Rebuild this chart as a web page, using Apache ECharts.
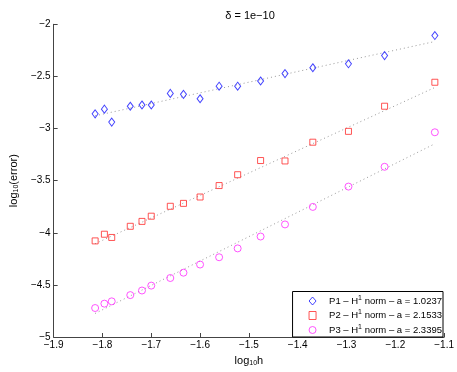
<!DOCTYPE html>
<html>
<head>
<meta charset="utf-8">
<script src="https://cdn.jsdelivr.net/npm/echarts@6/dist/echarts.min.js"></script>
<style>
  html, body { margin: 0; padding: 0; background: #fff; }
  #main { width: 457px; height: 372px; }
</style>
</head>
<body>
<div id="main"></div>
<script>
// log10(h) values, same for the three schemes
var logH = [-1.815, -1.796, -1.781, -1.743, -1.719, -1.700, -1.661, -1.634, -1.600,
            -1.561, -1.523, -1.476, -1.426, -1.369, -1.296, -1.222, -1.119];
// log10(error)
var errP1 = [-2.859, -2.814, -2.938, -2.786, -2.774, -2.774, -2.663, -2.672, -2.714,
             -2.594, -2.594, -2.544, -2.473, -2.417, -2.379, -2.300, -2.108];
var errP2 = [-4.078, -4.014, -4.045, -3.938, -3.891, -3.841, -3.746, -3.718, -3.657,
             -3.547, -3.443, -3.307, -3.311, -3.131, -3.027, -2.786, -2.556];
var errP3 = [-4.722, -4.680, -4.658, -4.598, -4.554, -4.507, -4.434, -4.383, -4.305,
             -4.235, -4.150, -4.036, -3.920, -3.752, -3.557, -3.367, -3.036];
// fitted lines, end points
var fitX  = [-1.815, -1.119];
var fitP1 = [-2.878, -2.165];
var fitP2 = [-4.105, -2.606];
var fitP3 = [-4.774, -3.146];
var names  = ['P1', 'P2', 'P3'];
var slopes = ['1.0237', '2.1533', '2.3395'];

var chart = echarts.init(document.getElementById('main'));
var font = 'Liberation Sans, Arial, sans-serif';

function pairs(xs, ys) {
  return xs.map(function (x, i) { return [x, ys[i]]; });
}
function minus(v) {
  return String(Math.round(v * 10) / 10).replace('-', '\u2212');
}

var fitStyle = { color: '#999', width: 1, type: [1, 3] };

var option = {
  backgroundColor: '#fff',
  animation: false,
  title: {
    text: '\u03b4 = 1e\u221210',
    left: 245, top: 5, textAlign: 'center',
    textStyle: { fontFamily: font, fontSize: 11, fontWeight: 'normal', color: '#000' }
  },
  grid: { left: 43.3, right: 10.3, top: 24.3, bottom: 31 },
  legend: {
    orient: 'vertical',
    right: 14, bottom: 35,
    data: names,
    itemWidth: 7, itemHeight: 8, itemGap: 3,
    padding: [3, 1, 2, 16],
    backgroundColor: '#fff',
    borderColor: '#000', borderWidth: 1, borderRadius: 0,
    itemStyle: { borderWidth: 1 },
    formatter: function (name) {
      var i = names.indexOf(name);
      return name + ' \u2013 H{sup|1} norm \u2013 a = ' + slopes[i];
    },
    textStyle: {
      fontFamily: font, fontSize: 9.5, color: '#000', padding: [0, 0, 0, 8],
      rich: { sup: { fontFamily: font, fontSize: 7, verticalAlign: 'top', padding: [0, 0, 6, 0] } }
    }
  },
  xAxis: {
    type: 'value', min: -1.9, max: -1.1, interval: 0.1,
    name: 'log{sub|10}h', nameLocation: 'middle', nameGap: 17,
    nameTextStyle: {
      fontFamily: font, fontSize: 11, color: '#000',
      rich: { sub: { fontFamily: font, fontSize: 7, verticalAlign: 'bottom', padding: [6, 0, 0, 0] } }
    },
    axisLine: { lineStyle: { color: '#444', width: 1 } },
    axisTick: { inside: true, length: 4, lineStyle: { color: '#444' } },
    axisLabel: { fontFamily: font, fontSize: 10, color: '#000', margin: 3, formatter: minus },
    splitLine: { show: false }
  },
  yAxis: {
    type: 'value', min: -5, max: -2, interval: 0.5,
    name: 'log{sub|10}(error)', nameLocation: 'middle', nameGap: 27, nameRotate: 90,
    nameTextStyle: {
      fontFamily: font, fontSize: 11, color: '#000',
      rich: { sub: { fontFamily: font, fontSize: 7, verticalAlign: 'bottom', padding: [6, 0, 0, 0] } }
    },
    axisLine: { show: true, lineStyle: { color: '#444', width: 1 } },
    axisTick: { show: true, inside: true, length: 4, lineStyle: { color: '#444' } },
    axisLabel: { fontFamily: font, fontSize: 10, color: '#000', margin: 3, formatter: minus },
    splitLine: { show: false }
  },
  series: [
    { name: 'fit1', type: 'line', data: pairs(fitX, fitP1), showSymbol: false, lineStyle: fitStyle, z: 1 },
    { name: 'fit2', type: 'line', data: pairs(fitX, fitP2), showSymbol: false, lineStyle: fitStyle, z: 1 },
    { name: 'fit3', type: 'line', data: pairs(fitX, fitP3), showSymbol: false, lineStyle: fitStyle, z: 1 },
    {
      name: 'P1', type: 'scatter', data: pairs(logH, errP1),
      symbol: 'diamond', symbolSize: [6, 8],
      itemStyle: { color: 'rgba(0,0,0,0)', borderColor: '#1515ff', borderWidth: 1 }, z: 3
    },
    {
      name: 'P2', type: 'scatter', data: pairs(logH, errP2),
      symbol: 'rect', symbolSize: 6,
      itemStyle: { color: 'rgba(0,0,0,0)', borderColor: '#ff2a2a', borderWidth: 1 }, z: 3
    },
    {
      name: 'P3', type: 'scatter', data: pairs(logH, errP3),
      symbol: 'circle', symbolSize: 7,
      itemStyle: { color: 'rgba(0,0,0,0)', borderColor: '#ff2aff', borderWidth: 1 }, z: 3
    }
  ]
};

chart.setOption(option);
</script>
</body>
</html>
